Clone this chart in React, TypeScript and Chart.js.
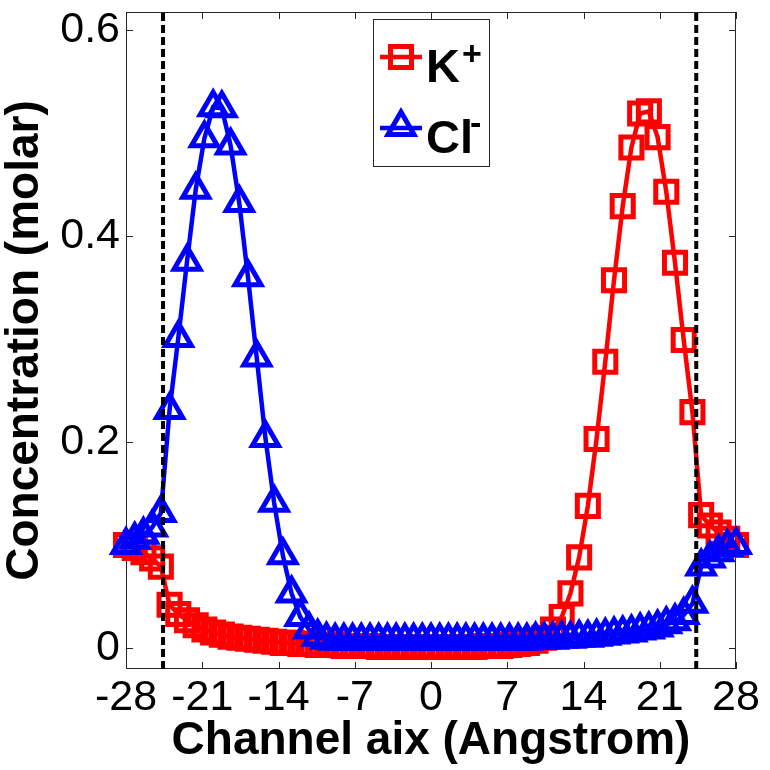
import { useEffect, useRef } from 'react';
import { Chart, registerables } from 'chart.js';

Chart.register(...registerables);

// positions along the channel axis (Angstrom)
const axisPos = [
  -28, -27.2, -26.4, -25.6, -24.8, -24, -23.2, -22.4, -21.6, -20.8,
  -20, -19.2, -18.4, -17.6, -16.8, -16, -15.2, -14.4, -13.6, -12.8,
  -12, -11.2, -10.4, -9.6, -8.8, -8, -7.2, -6.4, -5.6, -4.8,
  -4, -3.2, -2.4, -1.6, -0.8, 0, 0.8, 1.6, 2.4, 3.2,
  4, 4.8, 5.6, 6.4, 7.2, 8, 8.8, 9.6, 10.4, 11.2,
  12, 12.8, 13.6, 14.4, 15.2, 16, 16.8, 17.6, 18.4, 19.2,
  20, 20.8, 21.6, 22.4, 23.2, 24, 24.8, 25.6, 26.4, 27.2,
  28,
];

// K+ concentration (molar)
const kConc = [
  0.100, 0.097, 0.093, 0.087, 0.079, 0.042, 0.033, 0.027, 0.022, 0.018,
  0.015, 0.013, 0.011, 0.010, 0.009, 0.008, 0.007, 0.006, 0.005, 0.005,
  0.004, 0.004, 0.003, 0.003, 0.003, 0.002, 0.002, 0.002, 0.002, 0.001,
  0.001, 0.001, 0.001, 0.001, 0.001, 0.001, 0.001, 0.001, 0.001, 0.001,
  0.001, 0.002, 0.002, 0.002, 0.003, 0.004, 0.005, 0.007, 0.010, 0.018,
  0.030, 0.053, 0.088, 0.138, 0.203, 0.278, 0.357, 0.429, 0.486, 0.519,
  0.521, 0.496, 0.443, 0.374, 0.299, 0.229, 0.129, 0.119, 0.112, 0.106,
  0.100,
];

// Cl- concentration (molar)
const clConc = [
  0.100, 0.105, 0.110, 0.117, 0.131, 0.231, 0.301, 0.375, 0.445, 0.495,
  0.525, 0.524, 0.488, 0.432, 0.360, 0.282, 0.204, 0.141, 0.090, 0.053,
  0.030, 0.018, 0.011, 0.008, 0.007, 0.007, 0.007, 0.007, 0.007, 0.007,
  0.007, 0.007, 0.007, 0.007, 0.007, 0.007, 0.007, 0.007, 0.007, 0.007,
  0.007, 0.007, 0.007, 0.007, 0.007, 0.007, 0.007, 0.008, 0.008, 0.008,
  0.009, 0.009, 0.010, 0.010, 0.011, 0.012, 0.013, 0.014, 0.015, 0.017,
  0.018, 0.020, 0.023, 0.026, 0.032, 0.043, 0.079, 0.087, 0.093, 0.098,
  0.100,
];

// channel boundaries (dashed lines)
const boundaries = [-24.6, 24.35];

const xTicks = [-28, -21, -14, -7, 0, 7, 14, 21, 28];
const yTicks = [0, 0.2, 0.4, 0.6];
const xRange = [-28, 28];
const yRange = [-0.0204, 0.6175];

const FONT = '"Liberation Sans", Arial, sans-serif';

// box round the axes with inward ticks on all four sides, plus the legend
const framePlugin = {
  id: 'frame',
  beforeDatasetsDraw(chart: any) {
    const { ctx, chartArea, scales } = chart;
    const { left, right, top, bottom } = chartArea;
    const len = 7;
    ctx.save();
    ctx.strokeStyle = '#262626';
    ctx.lineWidth = 1;
    ctx.strokeRect(left + 0.5, top + 0.5, right - left - 1, bottom - top - 1);
    ctx.beginPath();
    xTicks.forEach((v) => {
      const px = Math.round(scales.x.getPixelForValue(v)) + 0.5;
      ctx.moveTo(px, bottom);
      ctx.lineTo(px, bottom - len);
      ctx.moveTo(px, top);
      ctx.lineTo(px, top + len);
    });
    yTicks.forEach((v) => {
      const py = Math.round(scales.y.getPixelForValue(v)) + 0.5;
      ctx.moveTo(left, py);
      ctx.lineTo(left + len, py);
      ctx.moveTo(right, py);
      ctx.lineTo(right - len, py);
    });
    ctx.stroke();
    ctx.restore();
  },
  afterDatasetsDraw(chart: any) {
    const { ctx, chartArea } = chart;
    const bx = chartArea.left + 247;
    const by = chartArea.top + 7;
    ctx.save();
    ctx.fillStyle = '#ffffff';
    ctx.fillRect(bx, by, 117, 148);
    ctx.strokeStyle = '#262626';
    ctx.lineWidth = 1;
    ctx.strokeRect(bx + 0.5, by + 0.5, 116, 147);

    // K+ entry
    ctx.strokeStyle = '#ff0000';
    ctx.lineWidth = 4.5;
    ctx.beginPath();
    ctx.moveTo(bx + 7, by + 38);
    ctx.lineTo(bx + 49, by + 38);
    ctx.stroke();
    ctx.lineWidth = 5;
    ctx.strokeRect(bx + 17.5, by + 27.5, 21, 21);
    // Cl- entry
    ctx.strokeStyle = '#0000ff';
    ctx.lineWidth = 4.5;
    ctx.beginPath();
    ctx.moveTo(bx + 7, by + 109);
    ctx.lineTo(bx + 49, by + 109);
    ctx.stroke();
    const cx = bx + 28;
    const cy = by + 108;
    const r = 15;
    ctx.lineWidth = 5;
    ctx.beginPath();
    ctx.moveTo(cx, cy - r);
    ctx.lineTo(cx + 0.866 * r, cy + 0.5 * r);
    ctx.lineTo(cx - 0.866 * r, cy + 0.5 * r);
    ctx.closePath();
    ctx.stroke();

    ctx.fillStyle = '#000000';
    ctx.textBaseline = 'alphabetic';
    ctx.textAlign = 'left';
    ctx.font = `bold 47px ${FONT}`;
    ctx.fillText('K', bx + 53, by + 63);
    ctx.fillText('Cl', bx + 53, by + 134);
    ctx.font = `bold 34px ${FONT}`;
    ctx.fillText('+', bx + 89, by + 46);
    ctx.fillText('-', bx + 97, by + 115);
    ctx.restore();
  },
};

export default function App() {
  const canvasRef = useRef<HTMLCanvasElement>(null);
  const chartInstance = useRef<Chart | null>(null);

  useEffect(() => {
    if (!canvasRef.current) return;
    if (chartInstance.current) {
      chartInstance.current.destroy();
    }
    const ctx = canvasRef.current.getContext('2d');
    if (!ctx) return;

    const boundaryData = boundaries.map((b) => ({
      type: 'line' as const,
      label: 'boundary',
      data: [
        { x: b, y: yRange[0] },
        { x: b, y: yRange[1] },
      ],
      borderColor: '#000000',
      borderWidth: 4,
      borderDash: [8, 4],
      pointRadius: 0,
      order: 0,
    }));

    chartInstance.current = new Chart(ctx, {
      type: 'line',
      data: {
        datasets: [
          {
            label: 'K+',
            data: axisPos.map((x, i) => ({ x, y: kConc[i] })),
            borderColor: '#ff0000',
            borderWidth: 4.5,
            pointStyle: 'rect',
            pointRadius: 14.9,
            pointBorderWidth: 5,
            pointBorderColor: '#ff0000',
            pointBackgroundColor: 'rgba(0,0,0,0)',
            tension: 0,
            clip: false,
            order: 2,
          },
          {
            label: 'Cl-',
            data: axisPos.map((x, i) => ({ x, y: clConc[i] })),
            borderColor: '#0000ff',
            borderWidth: 4.5,
            pointStyle: 'triangle',
            pointRadius: 15,
            pointBorderWidth: 5,
            pointBorderColor: '#0000ff',
            pointBackgroundColor: 'rgba(0,0,0,0)',
            tension: 0,
            clip: false,
            order: 1,
          },
          ...boundaryData,
        ],
      },
      options: {
        responsive: false,
        animation: false,
        layout: { autoPadding: false, padding: { left: 0, right: 34, top: 12, bottom: 0 } },
        plugins: {
          legend: { display: false },
          tooltip: { enabled: false },
        },
        scales: {
          x: {
            type: 'linear',
            min: xRange[0],
            max: xRange[1],
            afterBuildTicks: (scale: any) => {
              scale.ticks = xTicks.map((v) => ({ value: v }));
            },
            afterFit: (scale: any) => {
              scale.height = 101;
            },
            grid: { display: false, drawTicks: false },
            border: { display: false },
            ticks: {
              padding: 3,
              color: '#000000',
              maxRotation: 0,
              autoSkip: false,
              font: { family: FONT, size: 43 },
              callback: (v: any) => String(v),
            },
            title: {
              display: true,
              text: 'Channel aix (Angstrom)',
              color: '#000000',
              padding: { top: 0, bottom: 1 },
              font: { family: FONT, size: 46, weight: 'bold', lineHeight: 1.2 },
            },
          },
          y: {
            type: 'linear',
            min: yRange[0],
            max: yRange[1],
            afterBuildTicks: (scale: any) => {
              scale.ticks = yTicks.map((v) => ({ value: v }));
            },
            afterFit: (scale: any) => {
              scale.width = 126;
              scale.paddingTop = 0;
              scale.paddingBottom = 0;
            },
            grid: { display: false, drawTicks: false },
            border: { display: false },
            ticks: {
              padding: 6,
              color: '#000000',
              autoSkip: false,
              font: { family: FONT, size: 43, lineHeight: 0.2 },
              callback: (v: any) => (v === 0 ? '0' : Number(v).toFixed(1)),
            },
            title: {
              display: true,
              text: 'Concentration (molar)',
              color: '#000000',
              padding: { top: 0, bottom: 0 },
              font: { family: FONT, size: 46, weight: 'bold', lineHeight: 1.1 },
            },
          },
        },
      },
      plugins: [framePlugin],
    });

    return () => {
      if (chartInstance.current) {
        chartInstance.current.destroy();
        chartInstance.current = null;
      }
    };
  }, []);

  return (
    <div style={{ position: 'absolute', left: 0, top: 0, width: 770, height: 770, background: '#ffffff' }}>
      <canvas ref={canvasRef} width={770} height={770} />
    </div>
  );
}
